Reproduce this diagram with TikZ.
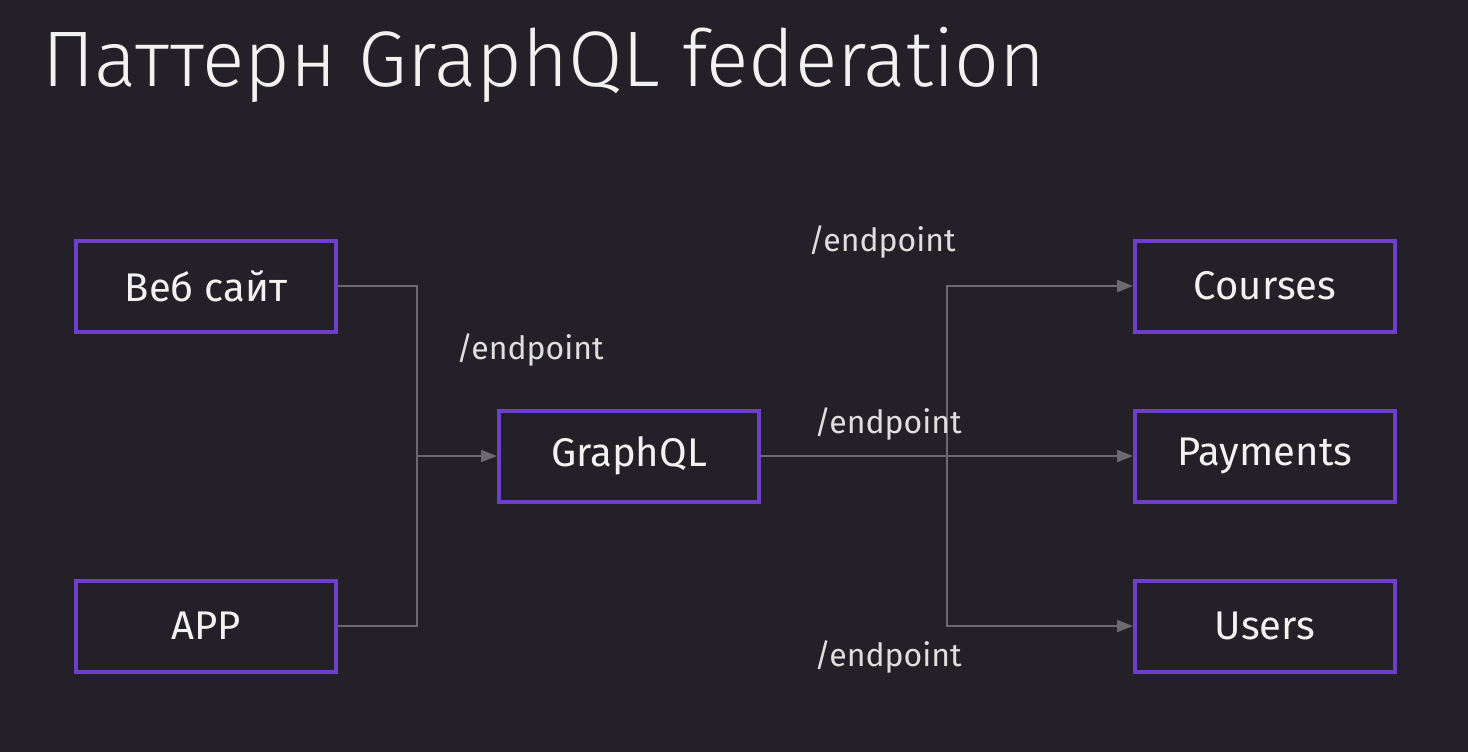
\documentclass[tikz,border=0pt]{standalone}
\usepackage{fontspec}
\setmainfont{Fira Sans}
\newfontfamily\titlefont{Fira Sans Light}
\usetikzlibrary{arrows.meta,positioning}
\definecolor{bgdark}{HTML}{232127}
\definecolor{boxpurple}{HTML}{6E3FCB}
\definecolor{wiregray}{HTML}{6B6A6E}
\definecolor{txtwhite}{HTML}{F2F2F2}
\tikzset{
  block/.style = {draw=boxpurple, line width=2pt, rectangle, minimum width=130pt,
                  minimum height=45.5pt, align=center, text=txtwhite,
                  font=\fontsize{20}{24}\selectfont},
  wire/.style  = {draw=wiregray, line width=1pt},
  sig/.style   = {wire, -{Triangle[length=8pt,width=6pt]}},
  epl/.style   = {text=txtwhite!92!black, font=\fontsize{16}{19}\selectfont, inner sep=0pt},
}
\begin{document}
\begin{tikzpicture}[x=0.5pt,y=-0.5pt]
\fill[bgdark] (0,0) rectangle (1468,752);
\useasboundingbox (0,0) rectangle (1468,752);
% title
\node[anchor=base west, inner sep=0pt, text=txtwhite, font=\titlefont\fontsize{39.4}{47}\selectfont] (title) at (42,86) {Паттерн GraphQL federation};
% clients
\node[block] (web) at (206,286) {Веб сайт};
\node[block] (app) at (206,626) {APP};
% gateway
\node[block] (gql) at (629,456) {GraphQL};
% services
\node[block] (courses)  at (1265,286) {Courses};
\node[block] (payments) at (1265,456) {Payments};
\node[block] (users)    at (1265,626) {Users};
% junctions
\coordinate (jin)  at (417,456);
\coordinate (jout) at (947,456);
\draw[sig] (web.east) -| (jin) -- (gql.west);
\draw[wire] (app.east) -| (jin);
\draw[sig] (gql.east) -- (payments.west);
\draw[sig] (jout) |- (courses.west);
\draw[sig] (jout) |- (users.west);
% labels
\node[epl] (ep1) at (530,350) {/endpoint};
\node[epl] (ep2) at (882,242) {/endpoint};
\node[epl] (ep3) at (888,424) {/endpoint};
\node[epl] (ep4) at (888,657) {/endpoint};
\end{tikzpicture}
\end{document}
